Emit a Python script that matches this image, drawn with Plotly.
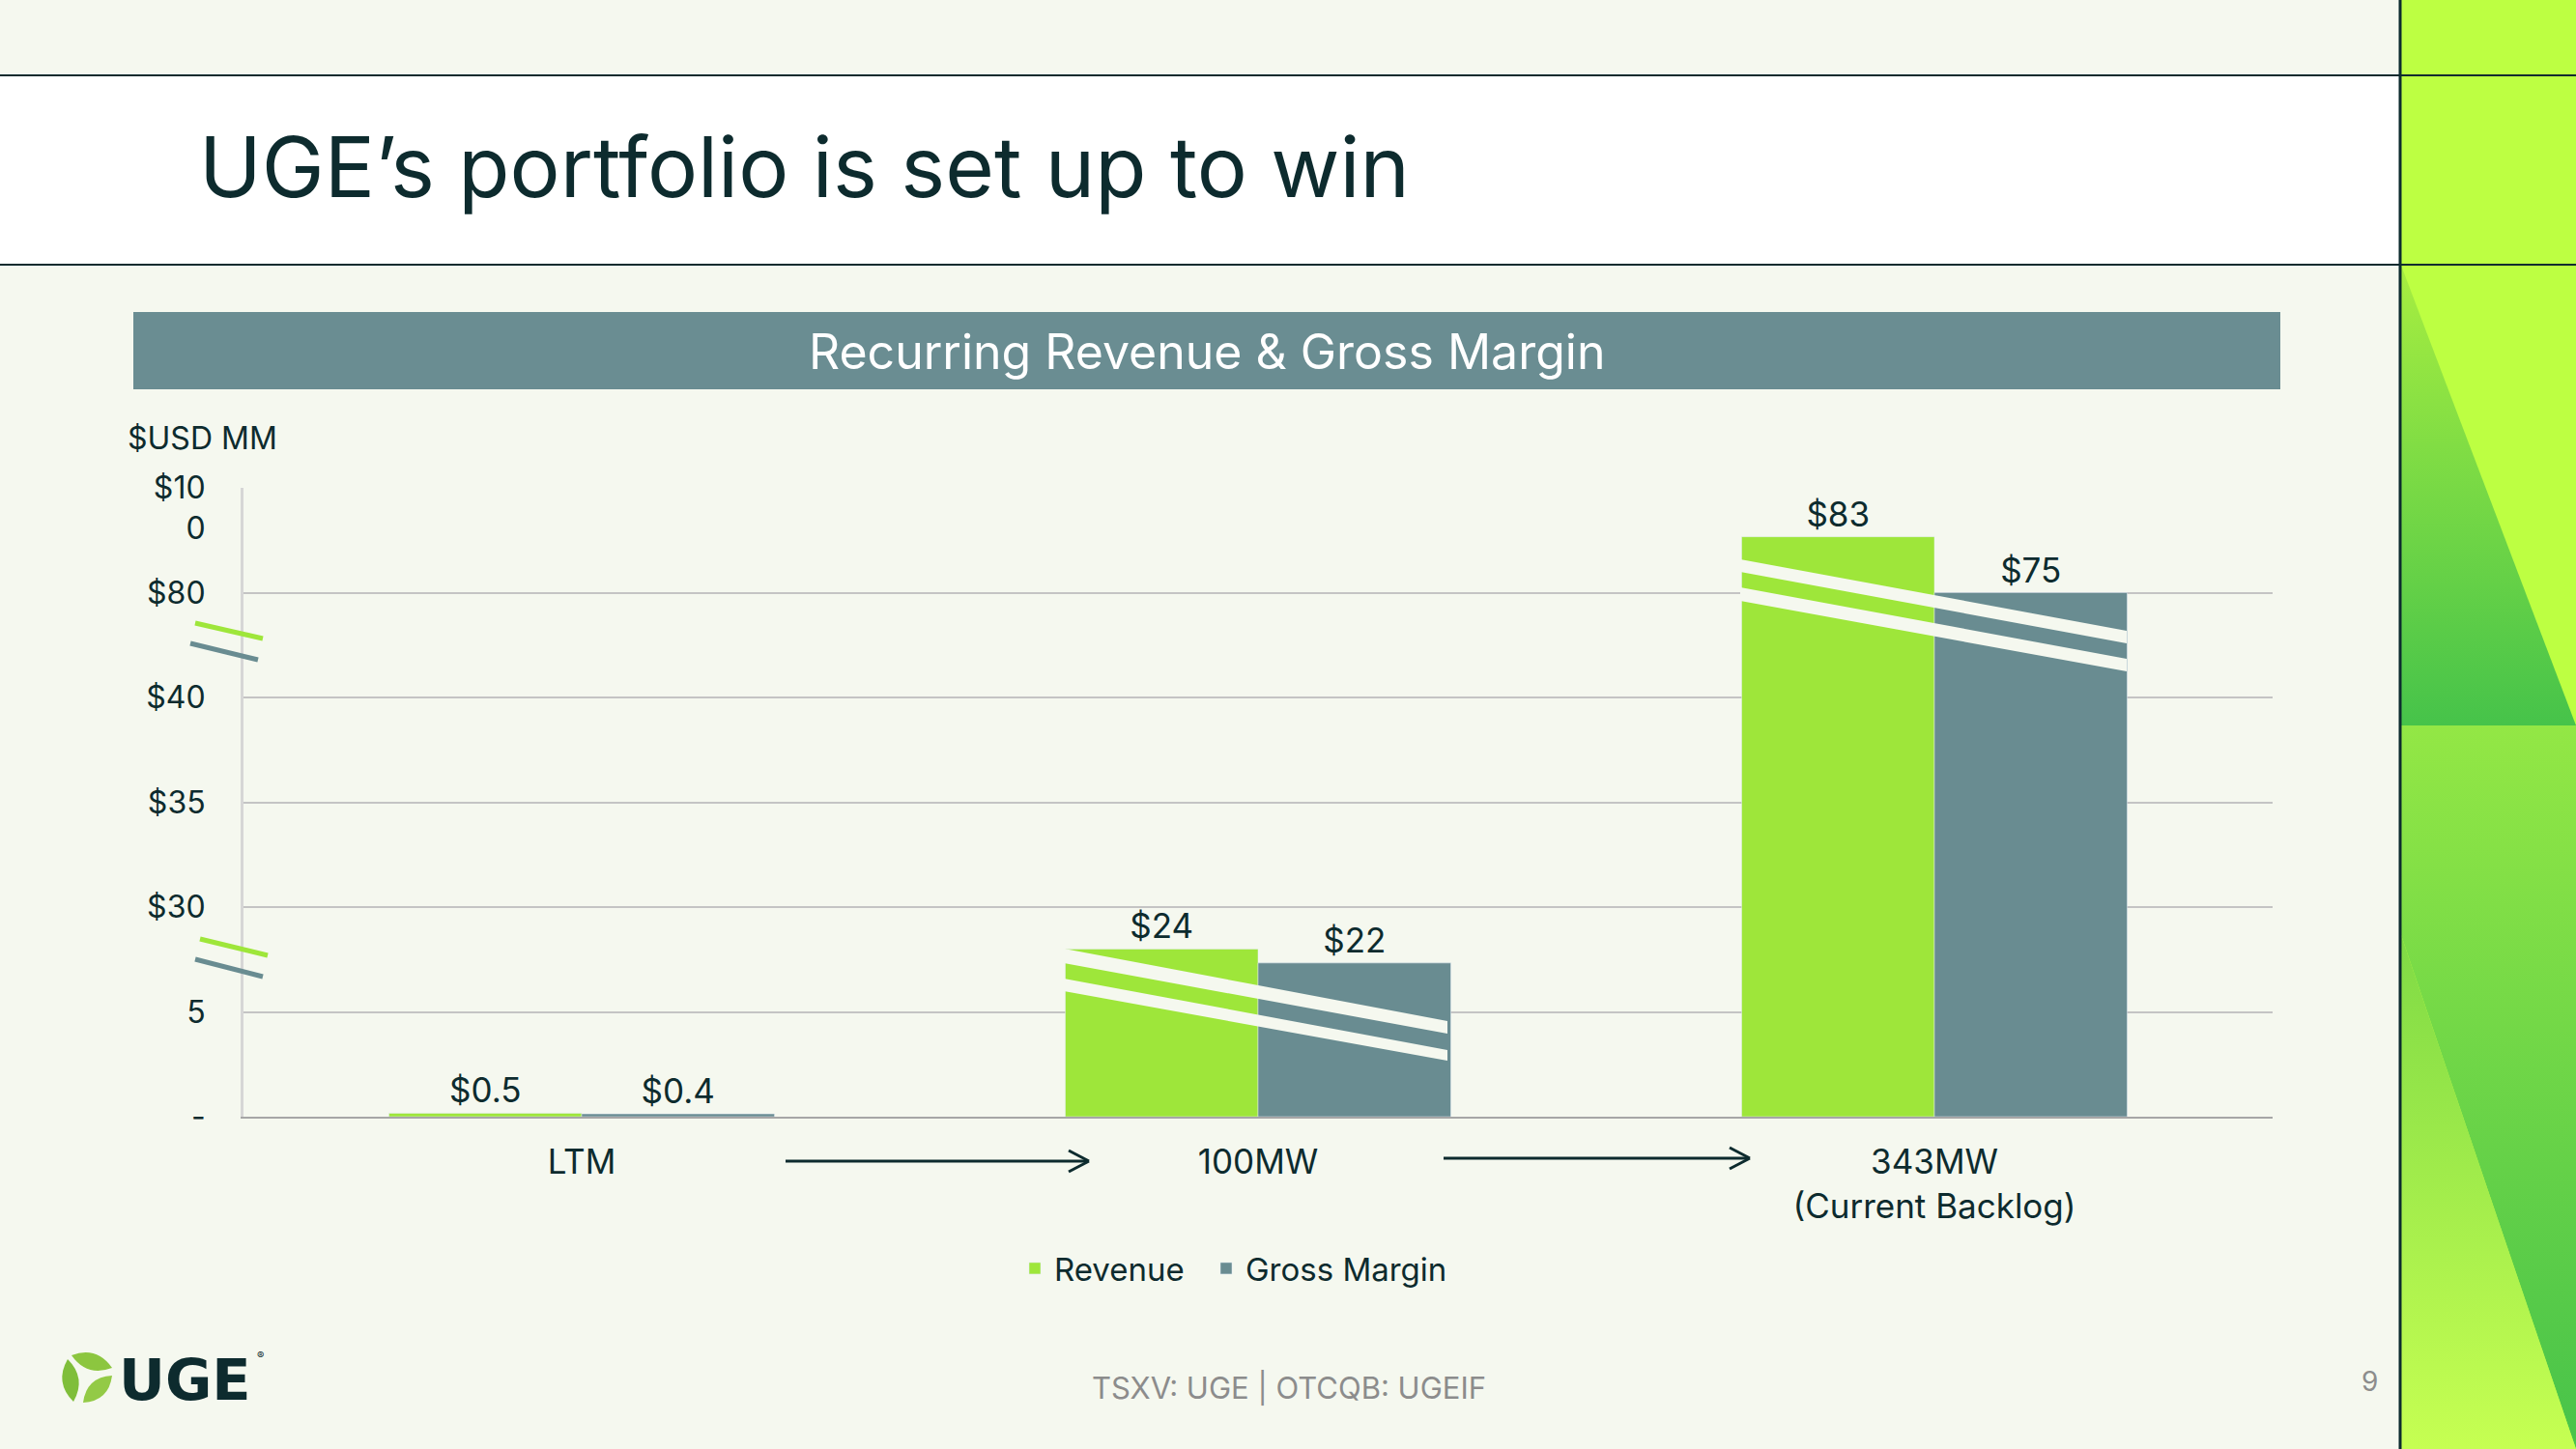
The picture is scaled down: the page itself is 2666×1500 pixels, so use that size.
import plotly.graph_objects as go

# ---------------- data ----------------
categories = ["LTM", "100MW", "343MW<br>(Current Backlog)"]
revenue = [0.5, 24, 83]
gross_margin = [0.4, 22, 75]
series_names = ["Revenue", "Gross Margin"]
y_tickvals = [0, 15, 30, 45, 60, 75, 90]
y_ticktext = ["-", "5", "$30", "$35", "$40", "$80", "\u00a0<br>$10<br>0"]

# ---------------- style ----------------
W, H = 2666, 1500
BG = "#F5F8EF"
DARK = "#0D2B2E"
GREEN = "#9EE63A"
TEAL = "#698C91"
FONT = "Inter"


def px(x):
    return x / W


def py(y):
    return 1 - y / H


def money(v):
    return f"${v:g}"


fig = go.Figure()

fig.add_trace(go.Bar(
    x=categories, y=revenue, name=series_names[0], marker_color=GREEN, legend="legend",
    text=[money(v) for v in revenue], texttemplate="%{text}", textposition="outside", cliponaxis=False,
    textfont=dict(size=35, color=DARK, family=FONT), hoverinfo="skip"))
fig.add_trace(go.Bar(
    x=categories, y=gross_margin, name=series_names[1], marker_color=TEAL, legend="legend2",
    text=[money(v) for v in gross_margin], texttemplate="%{text}", textposition="outside", cliponaxis=False,
    textfont=dict(size=35, color=DARK, family=FONT), hoverinfo="skip"))

# ---------------- right decorative panel (second hidden subplot) ----------------
PX0 = 2484
pw = W - PX0


def panel_poly(xs, ys, c1, c2, y0, y1):
    fig.add_trace(go.Scatter(
        x=xs, y=ys, fill="toself", mode="none", xaxis="x2", yaxis="y2",
        fillcolor=c1, showlegend=False, hoverinfo="skip",
        fillgradient=dict(type="vertical", colorscale=[[0, c1], [1, c2]], start=y0, stop=y1)))


panel_poly([0, pw, pw, 0], [0, 0, H, H], "#BDFF42", "#BDFF42", 0, H)
panel_poly([0, pw, 0], [272, 751, 751], "#A8EE40", "#46C34A", 272, 751)
panel_poly([0, pw, pw, 0], [751, 751, H, 965], "#93E745", "#47C34A", 751, H)
panel_poly([0, pw, 0], [965, H, H], "#7FDA45", "#C6FF52", 965, H)

shapes = []
ann = []

# title band
shapes.append(dict(type="rect", xref="paper", yref="paper", x0=0, x1=px(PX0), y0=py(274), y1=py(78),
                   fillcolor="white", line_width=0, layer="below"))
for yy in (78, 274):
    shapes.append(dict(type="line", xref="paper", yref="paper", x0=0, x1=1, y0=py(yy), y1=py(yy),
                       line=dict(color=DARK, width=2)))
shapes.append(dict(type="line", xref="paper", yref="paper", x0=px(PX0), x1=px(PX0), y0=0, y1=1,
                   line=dict(color=DARK, width=3)))

# header bar
shapes.append(dict(type="rect", xref="paper", yref="paper", x0=px(138), x1=px(2360), y0=py(403), y1=py(323),
                   fillcolor="#6A8D92", line_width=0, layer="below"))


def poly(pts, color):
    d = "M " + " L ".join(f"{px(x):.5f},{py(y):.5f}" for x, y in pts) + " Z"
    shapes.append(dict(type="path", xref="paper", yref="paper", path=d, fillcolor=color, line_width=0))


# axis-break stripes across bars
poly([(1101, 982), (1498, 1057), (1498, 1070), (1101, 997)], BG)
poly([(1101, 1013), (1498, 1087), (1498, 1098), (1101, 1026)], BG)
poly([(1801, 579), (2201, 653), (2201, 666), (1801, 592)], BG)
poly([(1801, 608), (2201, 682), (2201, 695), (1801, 622)], BG)

# y-axis break marks
for (x0, y0, x1, y1, c) in [(202, 645, 272, 661, GREEN), (197, 666, 267, 683, TEAL),
                             (207, 972, 277, 989, GREEN), (202, 993, 272, 1011, TEAL)]:
    shapes.append(dict(type="line", xref="paper", yref="paper", x0=px(x0), y0=py(y0), x1=px(x1), y1=py(y1),
                       line=dict(color=c, width=5)))

# arrows between categories
for (x0, x1, yy) in [(813, 1126, 1202), (1494, 1810, 1199)]:
    shapes.append(dict(type="line", xref="paper", yref="paper", x0=px(x0), x1=px(x1), y0=py(yy), y1=py(yy),
                       line=dict(color=DARK, width=3)))
    for dy in (-11, 11):
        shapes.append(dict(type="line", xref="paper", yref="paper", x0=px(x1 - 20), x1=px(x1 + 1),
                           y0=py(yy + dy), y1=py(yy), line=dict(color=DARK, width=3)))


# logo leaves
def leaf(a, b, bulge, color):
    (ax, ay), (bx, by) = a, b
    mx, my = (ax + bx) / 2, (ay + by) / 2
    dx, dy = bx - ax, by - ay
    L = (dx * dx + dy * dy) ** 0.5
    nx, ny = -dy / L, dx / L
    c1 = (mx + nx * bulge, my + ny * bulge)
    c2 = (mx - nx * bulge, my - ny * bulge)
    d = (f"M {px(ax):.5f},{py(ay):.5f} Q {px(c1[0]):.5f},{py(c1[1]):.5f} {px(bx):.5f},{py(by):.5f} "
         f"Q {px(c2[0]):.5f},{py(c2[1]):.5f} {px(ax):.5f},{py(ay):.5f} Z")
    shapes.append(dict(type="path", xref="paper", yref="paper", path=d, fillcolor=color, line_width=0))


leaf((74, 1403), (116, 1416), 17, "#8CC63F")
leaf((70, 1407), (76, 1451), 17, "#7FBE3A")
leaf((86, 1452), (116, 1424), 17, "#93CA46")

# texts
ann.append(dict(text="UGE’s portfolio is set up to win", x=px(204), y=py(173), xref="paper", yref="paper",
                xanchor="left", yanchor="middle", showarrow=False, font=dict(size=87, color=DARK, family=FONT)))
ann.append(dict(text="Recurring Revenue & Gross Margin", x=px(1249), y=py(364), xref="paper", yref="paper",
                xanchor="center", yanchor="middle", showarrow=False, font=dict(size=50, color="white", family=FONT)))
ann.append(dict(text="$USD MM", x=px(130), y=py(453), xref="paper", yref="paper",
                xanchor="left", yanchor="middle", showarrow=False, font=dict(size=32, color=DARK, family=FONT)))
ann.append(dict(text="TSXV: UGE | OTCQB: UGEIF", x=px(1334), y=py(1437), xref="paper", yref="paper",
                xanchor="center", yanchor="middle", showarrow=False, font=dict(size=31, color="#8C8C8C", family=FONT)))
ann.append(dict(text="9", x=px(2452), y=py(1430), xref="paper", yref="paper",
                xanchor="center", yanchor="middle", showarrow=False, font=dict(size=28, color="#8C8C8C", family=FONT)))
ann.append(dict(text="<b>UGE</b>", x=px(121), y=py(1428), xref="paper", yref="paper",
                xanchor="left", yanchor="middle", showarrow=False,
                font=dict(size=59, color=DARK, family="DejaVu Sans")))
ann.append(dict(text="®", x=px(269), y=py(1403), xref="paper", yref="paper",
                xanchor="center", yanchor="middle", showarrow=False, font=dict(size=11, color=DARK, family=FONT)))

legend_style = dict(orientation="h", y=py(1313), xanchor="left", yanchor="middle",
                    font=dict(size=33, color=DARK, family=FONT), bgcolor="rgba(0,0,0,0)")

fig.update_layout(
    width=W, height=H, autosize=False,
    margin=dict(l=0, r=0, t=0, b=0, pad=0, autoexpand=False),
    paper_bgcolor=BG, plot_bgcolor=BG,
    barmode="group", bargap=0.43, bargroupgap=0,
    font=dict(family=FONT, color=DARK),
    shapes=shapes, annotations=ann,
    showlegend=True,
    legend=dict(x=px(1051), **legend_style),
    legend2=dict(x=px(1249), **legend_style),
    xaxis=dict(domain=[px(252), px(2352)], anchor="y", type="category", range=[-0.5, 2.5],
               showgrid=False, showline=True, linecolor="#A6A6A6", linewidth=2, ticks="",
               tickfont=dict(size=35, color=DARK, family=FONT), ticklabelstandoff=15, fixedrange=True,
               automargin=False),
    yaxis=dict(domain=[py(1156), py(505)], anchor="x", range=[0, 90], tickvals=y_tickvals, ticktext=y_ticktext,
               showgrid=True, gridcolor="#C4C4C4", gridwidth=1.5, zeroline=False,
               showline=True, linecolor="#D6D6D6", linewidth=3, ticks="",
               tickfont=dict(size=32, color=DARK, family=FONT), ticklabelstandoff=30, fixedrange=True,
               automargin=False),
    xaxis2=dict(domain=[px(PX0), 1], anchor="y2", range=[0, pw], visible=False, fixedrange=True),
    yaxis2=dict(domain=[0, 1], anchor="x2", range=[H, 0], visible=False, fixedrange=True),
)

fig.write_html(
    "out.html",
    config={"displayModeBar": False, "responsive": False},
    post_script=("document.body.style.margin='0';document.body.style.overflow='hidden';"
                 "Plotly.relayout('{plot_id}', {width: 2666, height: 1500});"),
)
